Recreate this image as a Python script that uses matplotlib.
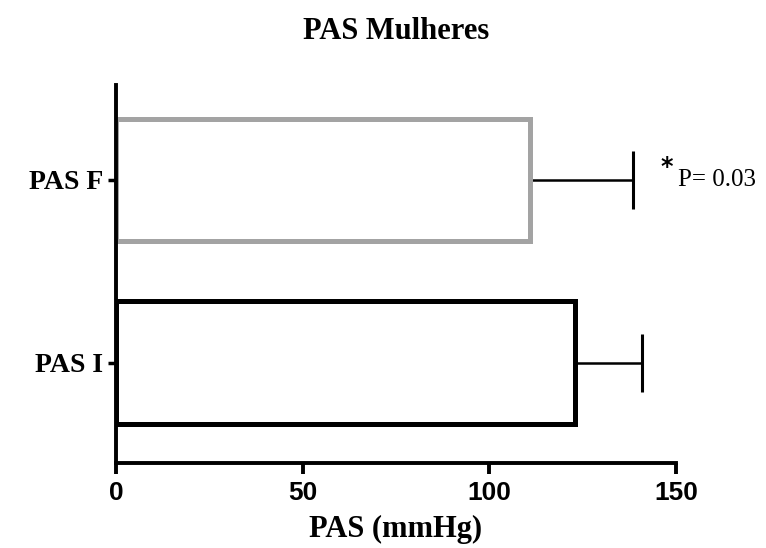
import matplotlib.pyplot as plt

# values
groups = ['PAS I', 'PAS F']
means = [123, 111]
errors = [18, 27.5]
edge_colors = ['black', '#a3a3a3']

fig = plt.figure(figsize=(7.66, 5.48), dpi=100)
ax = fig.add_axes([0.1514, 0.155, 0.731, 0.69])

ypos = list(range(len(groups)))
ax.barh(ypos, means, height=0.67, color='white', edgecolor=edge_colors,
        linewidth=3.6, zorder=2)
ax.errorbar(means, ypos, xerr=[[0, 0], errors], fmt='none', ecolor='black',
            elinewidth=1.8, capsize=21, capthick=2.2, zorder=1)

ax.set_xlim(0, 150)
ax.set_ylim(-0.55, 1.52)
ax.set_xticks([0, 50, 100, 150])
ax.set_yticks(ypos)
ax.set_yticklabels(groups, fontfamily='Liberation Serif', fontweight='bold',
                   fontsize=20)
for lab in ax.get_xticklabels():
    lab.set_fontfamily('Liberation Sans')
    lab.set_fontweight('bold')
    lab.set_fontsize(19)

for side in ['top', 'right']:
    ax.spines[side].set_visible(False)
for side in ['left', 'bottom']:
    ax.spines[side].set_linewidth(2.8)
ax.tick_params(axis='x', length=8, width=2.8, pad=5)
ax.tick_params(axis='y', length=6, width=2.5, pad=3)

ax.set_title('PAS Mulheres', fontfamily='Liberation Serif', fontweight='bold',
             fontsize=22, pad=33)
ax.set_xlabel('PAS (mmHg)', fontfamily='Liberation Serif', fontweight='bold',
              fontsize=22, labelpad=7)

ax.text(145.8, 1.07, '*', fontsize=17, fontweight='bold', ha='left', va='center')
ax.text(150.5, 1.0, 'P= 0.03', fontfamily='Liberation Serif', fontsize=18,
        ha='left', va='center')

fig.savefig('out.png', dpi=100)
